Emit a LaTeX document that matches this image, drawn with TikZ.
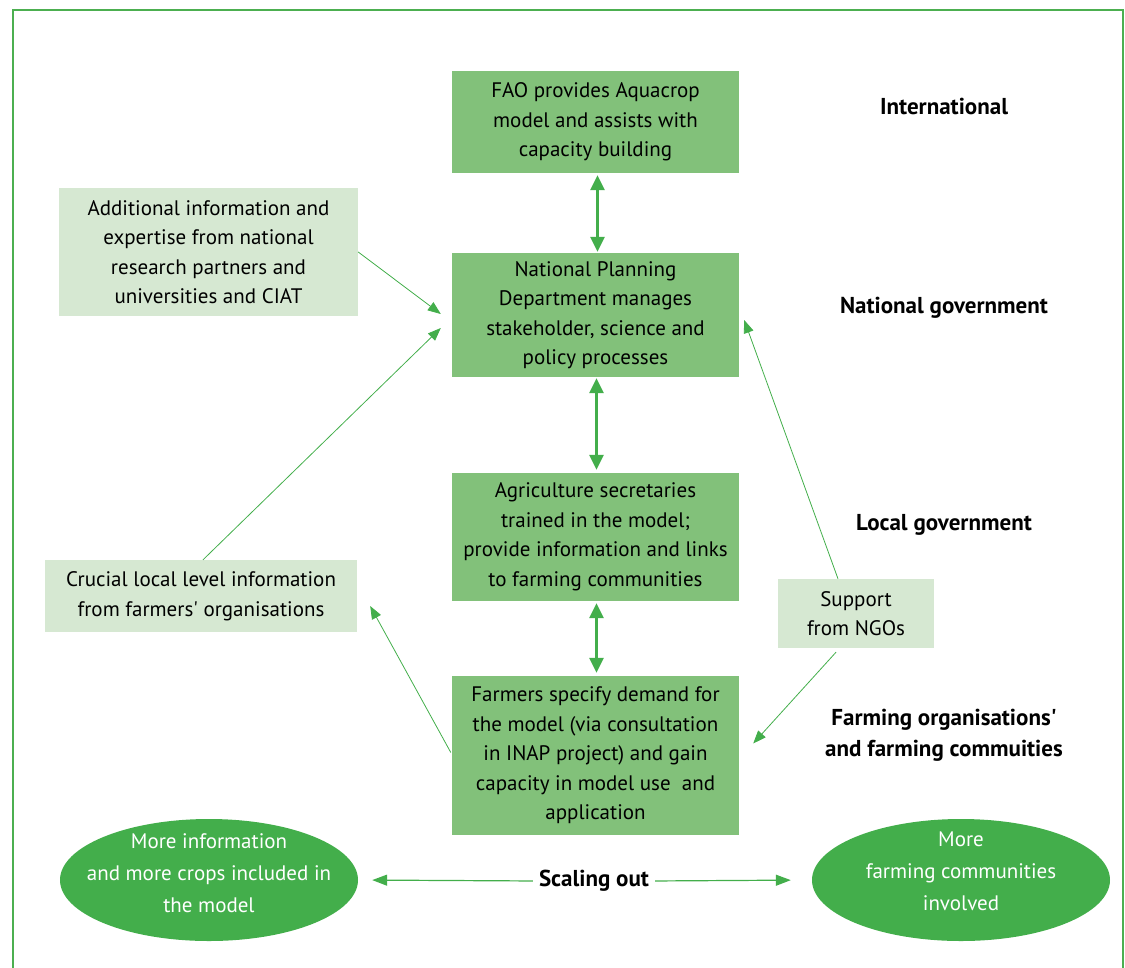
\documentclass[tikz,border=0pt]{standalone}
\usepackage{fontspec}
\setmainfont{PT Sans}
\usetikzlibrary{arrows.meta,calc,shapes.geometric}
\definecolor{frame}{HTML}{4CAF50}
\definecolor{arr}{HTML}{43AE4B}
\definecolor{darkbox}{HTML}{82C17A}
\definecolor{lightbox}{HTML}{D6E8D2}
\definecolor{ell}{HTML}{43AE4B}
\tikzset{
  txt/.style={font=\fontsize{21}{29.5}\selectfont, align=center, inner sep=0pt},
  dbox/.style={txt, fill=darkbox, minimum width=287pt},
  lbox/.style={txt, fill=lightbox},
  lvl/.style={font=\fontsize{23}{31}\selectfont\bfseries, align=center, inner sep=0pt},
  ellnode/.style={ellipse, fill=ell, minimum width=298pt, minimum height=122pt, inner sep=0pt},
  elltext/.style={font=\fontsize{21}{32}\selectfont, align=center, inner sep=0pt, text=white},
  thickarr/.style={draw=arr, line width=3pt, {Triangle[width=14pt,length=15pt]}-{Triangle[width=14pt,length=15pt]}},
  thinarr/.style={draw=arr, line width=0.8pt, -{Triangle[width=10pt,length=13pt]}},
  scalearr/.style={draw=arr, line width=1.2pt, -{Triangle[width=11pt,length=15pt]}},
}
\begin{document}
\begin{tikzpicture}[x=1pt,y=-1pt]
\useasboundingbox (0,0) rectangle (1125,967);
\draw[frame, line width=2.5pt] (13,975) -- (13,10) -- (1123,10) -- (1123,975);

\node[dbox, minimum height=102pt] (fao) at (595.5,122) {FAO provides Aquacrop\\model and assists with\\capacity building};
\node[dbox, minimum height=124pt] (npd) at (595.5,315) {National Planning\\Department manages\\stakeholder, science and\\policy processes};
\node[dbox, minimum height=128pt] (agr) at (595.5,537) {Agriculture secretaries\\trained in the model;\\provide information and links\\to farming communities};
\node[dbox, minimum height=159pt] (frm) at (595.5,755.5) {Farmers specify demand for\\the model (via consultation\\in INAP project) and gain\\capacity in model use\ \ and\\application};

\node[lbox, minimum width=299pt, minimum height=128pt] (add) at (208.5,252) {Additional information and\\expertise from national\\research partners and\\universities and CIAT};
\node[lbox, minimum width=312pt, minimum height=72pt] (cru) at (201,596) {Crucial local level information\\from farmers\textquotesingle\ organisations};
\node[lbox, minimum width=156pt, minimum height=69pt] (sup) at (856,613.5) {Support\\from NGOs};

\node[ellnode] (el) at (209,880) {};
\node[elltext] (elt) at (209,873) {More information\\and more crops included in\\the model};
\node[ellnode] (er) at (961,880) {};
\node[elltext] (ert) at (961,871) {More\\farming communities\\involved};
\node[lvl] (so) at (594,881) {Scaling out};

\node[lvl] (l1) at (944,106) {International};
\node[lvl] (l2) at (944,308) {National government};
\node[lvl] (l3) at (944,525) {Local government};
\node[lvl] (l4) at (944,735.5) {Farming organisations\textquotesingle\\and farming commuities};

\draw[thickarr, shorten <=2pt, shorten >=1pt] ($(fao.south)+(2,0)$) -- ($(npd.north)+(2,0)$);
\draw[thickarr, shorten <=1pt, shorten >=3pt] ($(npd.south)+(1,0)$) -- ($(agr.north)+(1,0)$);
\draw[thickarr, shorten <=2pt, shorten >=3pt] ($(agr.south)+(1,0)$) -- ($(frm.north)+(1,0)$);

\draw[thinarr] (add.east) -- ($(npd.west)+(-11,-1)$);
\draw[thinarr] ($(cru.north)+(2,0)$) -- ($(npd.west)+(-11,13)$);
\draw[thinarr] ($(frm.west)+(-1,-3)$) -- ($(cru.east)+(13,10)$);
\draw[thinarr] ($(sup.north)+(-18,0)$) -- ($(npd.east)+(5,5)$);
\draw[thinarr] ($(sup.south)+(-20,4)$) -- ($(frm.east)+(14,-12)$);

\draw[scalearr, shorten <=6pt, shorten >=14pt] (so.west) -- (el.east);
\draw[scalearr, shorten <=6pt, shorten >=21pt] (so.east) -- (er.west);
\end{tikzpicture}
\end{document}
